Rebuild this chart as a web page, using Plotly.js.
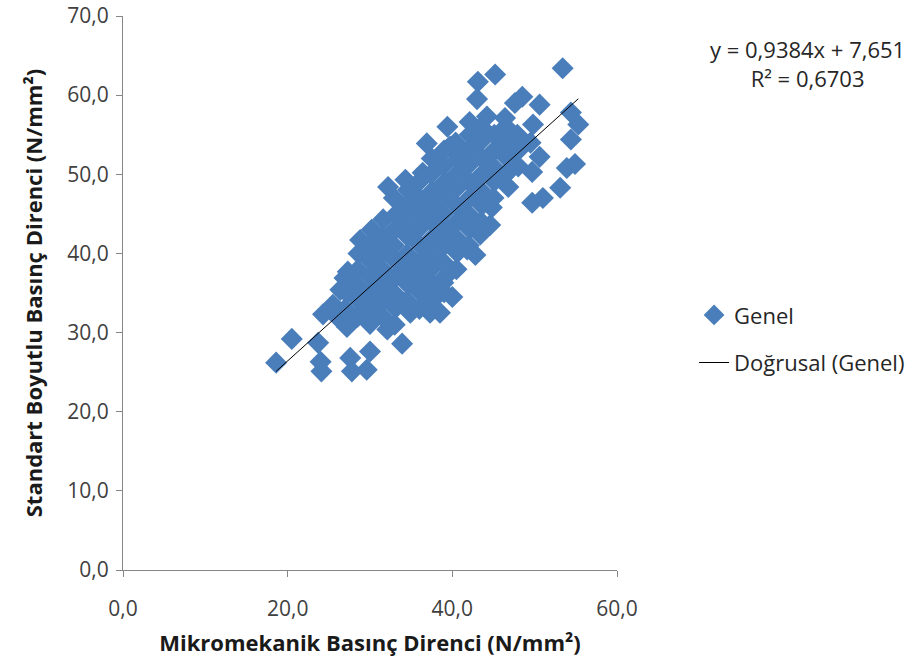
<!DOCTYPE html>
<html><head><meta charset="utf-8">
<script src="https://cdn.plot.ly/plotly-3.0.1.min.js"></script>
<style>html,body{margin:0;padding:0;background:#fff}#chart{width:924px;height:665px}</style>
</head><body><div id="chart"></div>
<script>
// Mikromekanik basınç direnci (x) and standart boyutlu basınç direnci (y), N/mm²
const mikromekanik = [
 53.4,45.2,43.1,43.0,48.5,50.6,47.6,49.8,54.4,55.3,54.4,39.4,42.1,44.2,46.4,36.9,39.7,50.6,53.9,54.9,
 53.1,49.7,51.0,49.7,46.2,46.8,44.8,43.4,42.8,40.0,38.5,34.9,33.9,18.6,20.5,23.7,24.3,26.0,24.0,24.1,
 27.6,27.8,30.0,29.6,25.5,26.4,27.3,28.8,30.2,31.6,32.2,34.3,36.4,27.2,29.6,32.1,37.3,38.9,41.8,44.6,
 27.0,27.1,26.9,
 28.5,28.6,28.4,28.5,28.6,
 30.0,30.1,29.9,30.0,30.1,29.9,
 31.5,31.6,31.4,31.5,31.6,31.4,
 33.0,33.1,32.9,33.0,33.1,32.9,33.0,33.1,32.9,
 34.5,34.6,34.4,34.5,34.6,34.4,34.5,34.6,
 36.0,36.1,35.9,36.0,36.1,35.9,36.0,36.1,35.9,
 37.5,37.6,37.4,37.5,37.6,37.4,37.5,37.6,37.4,37.5,
 39.0,39.1,38.9,39.0,39.1,38.9,39.0,39.1,38.9,39.0,
 40.5,40.6,40.4,40.5,40.6,40.4,40.5,40.6,40.4,
 42.0,42.1,41.9,42.0,42.1,41.9,42.0,42.1,
 43.5,43.6,43.4,43.5,43.6,43.4,43.5,
 45.0,45.1,44.9,45.0,45.1,
 46.5,46.6,46.4,46.5,
 48.0,48.1,47.9,
 49.5
];
const standart = [
 63.4,62.6,61.7,59.5,59.8,58.8,59.0,56.3,57.8,56.3,54.4,56.0,56.6,57.3,57.1,53.9,53.5,52.2,50.8,51.3,
 48.3,46.4,47.0,50.3,49.7,48.4,45.8,42.4,39.8,34.5,32.5,32.5,28.6,26.2,29.2,28.7,32.3,32.0,26.3,25.1,
 26.8,25.1,27.6,25.3,33.5,35.4,37.7,41.7,43.0,44.3,48.4,49.3,50.2,30.7,31.6,30.4,32.5,36.3,40.5,43.6,
 33.0,35.1,36.9,
 32.0,34.1,36.0,37.9,40.0,
 31.1,33.0,34.9,37.1,39.0,41.0,
 32.0,34.1,35.9,38.0,40.1,42.0,
 31.0,33.1,35.0,36.9,39.1,41.0,43.0,44.9,47.0,
 34.0,36.1,38.0,39.9,42.1,44.0,46.0,48.0,
 33.0,35.1,37.0,38.9,41.0,43.1,45.0,46.9,49.0,
 34.0,36.1,38.0,39.9,42.0,44.1,46.0,47.9,50.0,52.0,
 35.1,37.0,38.9,41.0,43.1,45.0,46.9,49.0,51.1,53.0,
 38.0,40.1,42.0,43.9,46.0,48.1,50.0,51.9,54.0,
 41.0,43.1,45.0,46.9,49.0,51.1,53.0,55.0,
 44.0,46.1,48.0,49.9,52.0,54.1,56.0,
 47.0,49.1,51.0,52.9,55.0,
 50.0,52.1,54.0,56.0,
 51.0,53.1,55.0,
 54.0
];
const xTickVals = [0, 20, 40, 60];
const yTickVals = [0, 10, 20, 30, 40, 50, 60, 70];
const trendSlope = 0.9384;
const trendIntercept = 7.651;
const seriesName = 'Genel';
const trendName = 'Doğrusal (Genel)';
const equationText = 'y = 0,9384x + 7,651';
const r2Text = 'R² = 0,6703';
const xTitle = 'Mikromekanik Basınç Direnci (N/mm²)';
const yTitle = 'Standart Boyutlu Basınç Direnci (N/mm²)';

const xMin = Math.min(...mikromekanik), xMax = Math.max(...mikromekanik);
const trendX = [xMin, xMax];
const trendY = trendX.map(v => trendSlope * v + trendIntercept);

const FONT = 'Open Sans, Noto Sans, sans-serif';
const blue = '#4A7EBB';
const axisCol = '#868686';

const traces = [
 {type:'scatter', mode:'markers', x: mikromekanik, y: standart, name: seriesName, legendgroup:'a',
  marker:{symbol:'diamond', size:17, color: blue, line:{width:0}}, cliponaxis:false},
 {type:'scatter', mode:'lines', x: trendX, y: trendY, name: trendName, legendgroup:'b',
  line:{color:'#000', width:1}}
];

const layout = {
 width:924, height:665,
 margin:{l:123, r:307, t:16, b:95, autoexpand:false},
 paper_bgcolor:'#fff', plot_bgcolor:'#fff',
 separators:', ',
 font:{family:FONT, color:'#404040', size:21},
 showlegend:true,
 legend:{x:1.156, xanchor:'left', y:0.498, yanchor:'top',
   font:{family:FONT, size:22, color:'#262626'}, tracegroupgap:16, bgcolor:'rgba(0,0,0,0)'},
 xaxis:{range:[0,60], tickvals:xTickVals, tickformat:'.1f', showgrid:false, zeroline:false,
   showline:true, linecolor:axisCol, linewidth:1, ticks:'outside', ticklen:6, tickcolor:axisCol,
   ticklabelstandoff:14, tickfont:{family:FONT, size:21, color:'#404040'}, automargin:false,
   title:{text:xTitle, standoff:14, font:{family:FONT, size:22, weight:'bold', color:'#1a1a1a'}}},
 yaxis:{range:[0,70], tickvals:yTickVals, tickformat:'.1f', showgrid:false, zeroline:false,
   showline:true, linecolor:axisCol, linewidth:1, ticks:'outside', ticklen:6, tickcolor:axisCol,
   ticklabelstandoff:3, tickfont:{family:FONT, size:21, color:'#404040'}, automargin:false,
   title:{text:yTitle, standoff:18, font:{family:FONT, size:22, weight:'bold', color:'#1a1a1a'}}},
 annotations:[
  {xref:'paper', yref:'paper', x:1.3866, y:0.915, xanchor:'center', yanchor:'middle', showarrow:false,
   align:'center', text: equationText + '<br>' + r2Text, font:{family:FONT, size:22, color:'#262626'}}
 ]
};
Plotly.newPlot('chart', traces, layout, {staticPlot:true, displayModeBar:false});
</script></body></html>
